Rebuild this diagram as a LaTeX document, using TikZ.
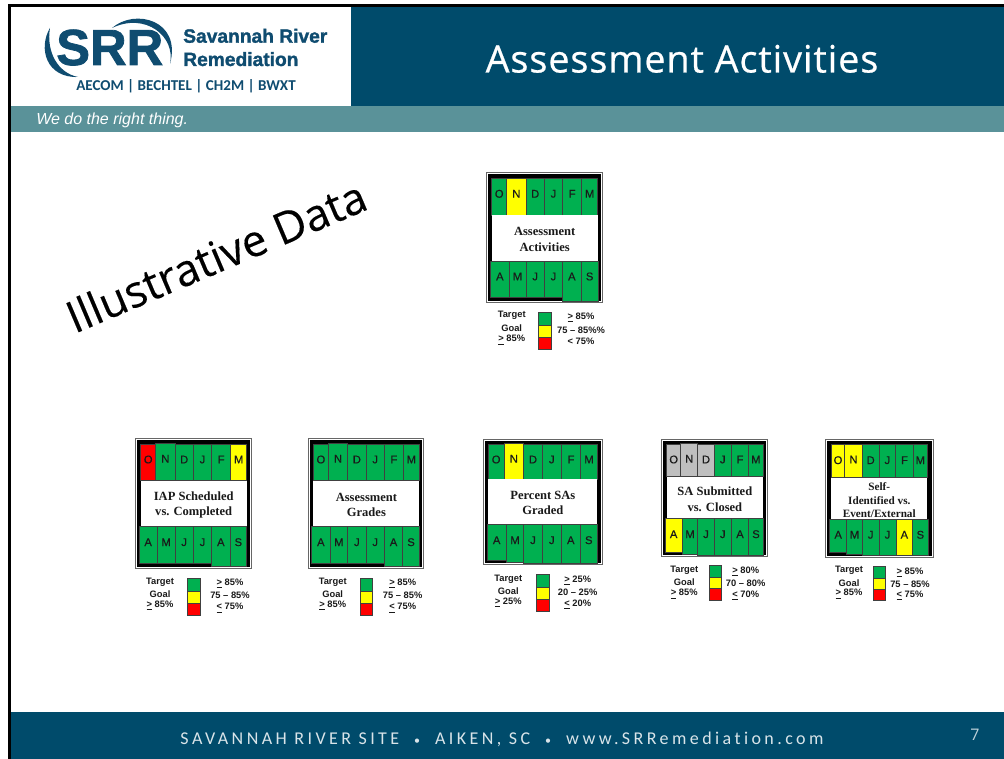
\documentclass[tikz,border=0pt]{standalone}
\usepackage{fontspec}
\setmainfont{Liberation Sans}
\newfontfamily\serfont{Liberation Serif}
\newfontfamily\calfont[LetterSpace=19,Ligatures=NoCommon]{Carlito}
\newfontfamily\logofont{Carlito}
\newfontfamily\titlefont{Open Sans}
\newfontfamily\headfont[FakeBold=0.6,LetterSpace=2.5]{Open Sans}
\newfontfamily\srrfont[FakeBold=1.5,Ligatures=NoCommon]{Liberation Sans Bold}
\newfontfamily\markfont[FakeBold=0.25]{Open Sans}
\newfontfamily\cellfont[FakeBold=0.4]{Liberation Sans}
\definecolor{navy}{HTML}{004B6B}
\definecolor{logonavy}{HTML}{0F4C70}
\definecolor{strip}{HTML}{5A9299}
\definecolor{cG}{HTML}{00B050}
\definecolor{cY}{HTML}{FFFF00}
\definecolor{cR}{HTML}{FF0000}
\definecolor{cS}{HTML}{BFBFBF}
\definecolor{ink}{HTML}{1A1A1A}
\tikzset{
  x=0.75pt,y=-0.75pt,
  cellbox/.style={draw=black!75,line width=0.45pt},
  cellletter/.style={inner sep=0,font=\cellfont\fontsize{8.4}{10}\selectfont,text=ink},
  cardtitle/.style={inner sep=0,align=center,text=ink,font=\serfont\bfseries\fontsize{9.4}{11.4}\selectfont},
  smalltitle/.style={font=\serfont\bfseries\fontsize{8.4}{9.9}\selectfont},
  legtext/.style={inner sep=0,text=ink,font=\bfseries\fontsize{7}{8}\selectfont},
}
\newcommand\ulgt{\underline{>} }
\newcommand\ullt{\underline{<} }
\newcommand\cardframe[4]{%
  \fill[black!60] (#1,#2) rectangle (#3,#4);
  \fill[white] ({#1+1},{#2+1}) rectangle ({#3-1},{#4-1});
  \fill[black] ({#1+2},{#2+2}) rectangle ({#3-2},{#4-2});
}
\newcommand\cellrow[1]{%
  \foreach \xa/\ya/\xb/\yb/\cc/\ltr in {#1}{%
    \draw[cellbox,fill=c\cc] (\xa,\ya) rectangle (\xb,\yb);
    \node[cellletter] at ({(\xa+\xb)/2},{\ya+15.5}) {\ltr};
  }%
}
\newcommand\whitebox[6][]{%
  \fill[white] (#2,#3) rectangle (#4,#5);
  \node[cardtitle,#1] at ({(#2+#4)/2},{(#3+#5)/2+1.5}) {#6};
}
\newcommand\legbox[6]{%
  \draw[cellbox,fill=cG] (#1,#3) rectangle (#2,#4);
  \draw[cellbox,fill=cY] (#1,#4) rectangle (#2,#5);
  \draw[cellbox,fill=cR] (#1,#5) rectangle (#2,#6);
}
\newcommand\legtxt[7]{%
  \node[legtext] at (#1,#2) {#5};
  \node[legtext] at (#1,#3) {#6};
  \node[legtext] at (#1,#4) {#7};
}
\begin{document}
\begin{tikzpicture}
\useasboundingbox (0,0) rectangle (1004,759);
\fill[white] (0,0) rectangle (1004,759);
% header and footer
\fill[navy] (351,6) rectangle (1004,106);
\fill[strip] (11,106) rectangle (1004,132);
\fill[navy] (11,712) rectangle (1004,759);
\fill[black] (8,4) rectangle (1004,6.7);
\fill[black] (8,4) rectangle (10.8,759);
\node[inner sep=0,anchor=base west,text=white,font=\itshape\fontsize{12}{14}\selectfont] (slogan) at (36,125) {We do the right thing.};
\node[inner sep=0,anchor=base,text=white,font=\headfont\fontsize{28.3}{30}\selectfont] (title) at (682,72.5) {Assessment Activities};
\node[inner sep=0,anchor=base,text=white!85!navy,font=\calfont\fontsize{13.5}{15}\selectfont] (foot) at (502,744) {SAVANNAH RIVER SITE \ {\fontsize{9}{10}\selectfont •} \ AIKEN, SC \ {\fontsize{9}{10}\selectfont •} \ www.SRRemediation.com};
\node[inner sep=0,anchor=base,text=white!75!navy,font=\titlefont\fontsize{12}{13}\selectfont] (page) at (975,740.5) {7};
% logo
\fill[logonavy] (50,28) .. controls (38,48) and (46,78) .. (78,77) .. controls (58,73) and (46,52) .. (50,28) -- cycle;
\fill[logonavy] (112,28) .. controls (135,8) and (182,20) .. (170,64) .. controls (176,36) and (145,12) .. (112,28) -- cycle;
\node[inner sep=0,anchor=base west,text=logonavy,font=\srrfont\fontsize{38}{40}\selectfont] (srr) at (56,65) {SRR};
\node[inner sep=0,anchor=base west,text=logonavy,font=\srrfont\fontsize{14.4}{16}\selectfont] (sr1) at (183,42.7) {Savannah River};
\node[inner sep=0,anchor=base west,text=logonavy,font=\srrfont\fontsize{14.4}{16}\selectfont] (sr2) at (183,66) {Remediation};
\node[inner sep=0,anchor=base west,text=logonavy,font=\logofont\bfseries\fontsize{11.3}{13}\selectfont] (sr3) at (76,91) {AECOM | BECHTEL | CH2M | BWXT};
% watermark
\node[inner sep=0,rotate=23,text=black,font=\markfont\fontsize{33}{36}\selectfont] (illus) at (216,256) {Illustrative Data};
% card 1: Assessment Activities
\cardframe{486}{172.3}{603.3}{302.7}
\cellrow{491.7/178.3/506.7/215/G/O,506.7/178.3/526/215/Y/N,526/178.3/544.3/215/G/D,544.3/178.3/562.7/215/G/J,562.7/178.3/581.7/215/G/F,581.7/178.3/597.7/215/G/M}
\whitebox{491.7}{215}{597.7}{260.7}{Assessment\\Activities}
\cellrow{490.7/261/509/297.7/G/A,509/261/526/297.7/G/M,526/261/544.3/297.7/G/J,544.3/261/562.7/297.7/G/J,562.7/261/581/301/G/A,581/261/598.3/301/G/S}
\legbox{538.3}{551}{312}{325}{337.3}{349.3}
\legtxt{511.7}{315.7}{327.7}{340}{Target}{Goal}{\ulgt 85\%}
\legtxt{581}{317.7}{330}{341.7}{\ulgt 85\%}{75 – 85\%\%}{< 75\%}
% card 2: IAP
\cardframe{135}{438.3}{252.3}{568.7}
\cellrow{140.7/444/155.7/480.7/R/O,155.7/443.3/175/480.7/G/N,175/444/193.3/480.7/G/D,193.3/444/211.7/480.7/G/J,211.7/444/230.7/480.7/G/F,230.7/444/246.7/480.7/Y/M}
\whitebox{140.7}{480.7}{246.7}{526}{IAP Scheduled\\vs. Completed}
\cellrow{139/526.7/157.3/563.3/G/A,157.3/526.7/175/563.3/G/M,175/526.7/193.3/563.3/G/J,193.3/526.7/211.7/563.3/G/J,211.7/526.7/230/566/G/A,230/526.7/246.7/566/G/S}
\legbox{187.3}{200}{578.3}{591.3}{603.3}{615.7}
\legtxt{160}{582}{593.7}{605.7}{Target}{Goal}{\ulgt 85\%}
\legtxt{230}{583.7}{595.7}{608}{\ulgt 85\%}{75 – 85\%}{\ullt 75\%}
% card 3: Assessment Grades
\cardframe{307.7}{438.3}{424.3}{568.7}
\cellrow{313.4/444/328.4/480.7/G/O,328.4/443.3/347.7/480.7/G/N,347.7/444/366/480.7/G/D,366/444/384.4/480.7/G/J,384.4/444/403.4/480.7/G/F,403.4/444/419.4/480.7/G/M}
\whitebox{313.4}{480.7}{419.4}{526}{Assessment\\Grades}
\cellrow{311.7/526.7/330/563.3/G/A,330/526.7/347.7/563.3/G/M,347.7/526.7/366/563.3/G/J,366/526.7/384.4/563.3/G/J,384.4/526.7/402.7/566/G/A,402.7/526.7/419.4/566/G/S}
\legbox{360}{372.7}{578.3}{591.3}{603.3}{615.7}
\legtxt{332.7}{582}{593.7}{605.7}{Target}{Goal}{\ulgt 85\%}
\legtxt{402.7}{583.7}{595.7}{608}{\ulgt 85\%}{75 – 85\%}{\ullt 75\%}
% card 4: Percent SAs Graded
\cardframe{483}{438.7}{603}{565.3}
\cellrow{488.3/444/504/479.3/G/O,504/443.3/523.7/479.3/Y/N,523.7/444/542.3/479.3/G/D,542.3/444/561.3/479.3/G/J,561.3/444/580.7/479.3/G/F,580.7/444/597.3/479.3/G/M}
\whitebox{488.3}{479.3}{597.3}{524.3}{Percent SAs\\Graded}
\cellrow{487/524.7/506.3/560/G/A,506.3/524.7/523.7/562/G/M,523.7/524.7/542.3/563.3/G/J,542.3/524.7/561.3/563.3/G/J,561.3/524.7/580.3/563.3/G/A,580.3/524.7/597.3/563.3/G/S}
\legbox{536.3}{549}{574.7}{587.3}{599.3}{611.7}
\legtxt{508.3}{579}{590.7}{602.7}{Target}{Goal}{\ulgt 25\%}
\legtxt{577.7}{580.7}{592.7}{604.7}{\ulgt 25\%}{20 – 25\%}{\ullt 20\%}
% card 5: SA Submitted
\cardframe{661}{438.7}{768.3}{557.3}
\cellrow{666.7/444/680.7/476.7/S/O,680.7/443.3/697.7/476.7/S/N,697.7/444/714.3/476.7/S/D,714.3/444/731.3/476.7/G/J,731.3/444/748.7/476.7/G/F,748.7/444/763/476.7/G/M}
\whitebox{666.7}{477.3}{763}{518.3}{SA Submitted\\vs. Closed}
\cellrow{665/518.7/682.3/552/Y/A,682.3/518.7/697.7/554/G/M,697.7/518.7/714.3/555/G/J,714.3/518.7/731.3/555/G/J,731.3/518.7/748.7/555/G/A,748.7/518.7/763.3/555/G/S}
\legbox{709}{721}{565.7}{577.3}{588.7}{600}
\legtxt{684.3}{570}{581.7}{594}{Target}{Goal}{\ulgt 85\%}
\legtxt{745.7}{571.7}{583.7}{595.7}{\ulgt 80\%}{70 – 80\%}{\ullt 70\%}
% card 6: Self-Identified
\cardframe{825}{439}{934}{558.3}
\cellrow{831.3/444.7/844.7/477.3/Y/O,844.7/444/862.3/477.3/Y/N,862.3/444.7/879/477.3/G/D,879/444.7/895.7/477.3/G/J,895.7/444.7/913.3/477.3/G/F,913.3/444.7/927.3/477.3/G/M}
\whitebox[smalltitle]{831.3}{478.3}{927.3}{519}{Self-\\Identified vs.\\Event/External}
\cellrow{829.7/519.3/846.7/552.3/G/A,846.7/519.3/862.3/554.3/G/M,862.3/519.3/879/555.7/G/J,879/519.3/896/555.7/G/J,896/519.3/912.7/555.7/Y/A,912.7/519.3/928/555.7/G/S}
\legbox{873.3}{885}{566}{578.3}{589.3}{600.7}
\legtxt{849}{570.7}{582.7}{594}{Target}{Goal}{\ulgt 85\%}
\legtxt{910}{572.7}{584.7}{595.7}{\ulgt 85\%}{75 – 85\%}{\ullt 75\%}
\end{tikzpicture}
\end{document}
